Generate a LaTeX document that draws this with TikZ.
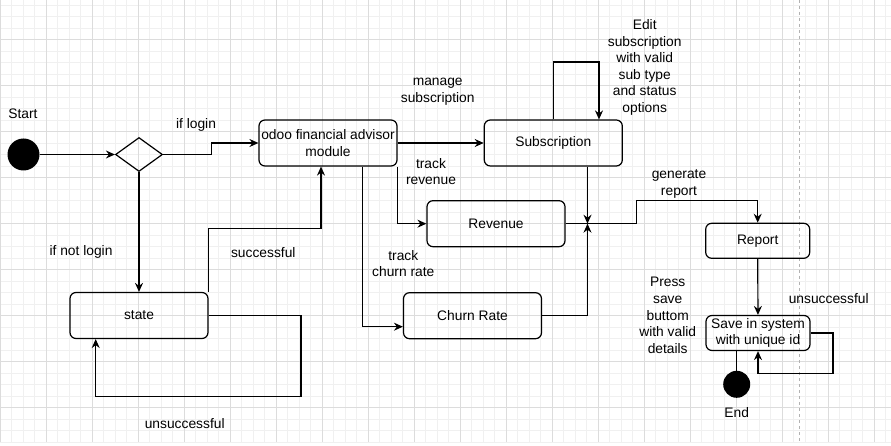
\documentclass[tikz,border=0pt]{standalone}
\usepackage{fontspec}
\setmainfont{Liberation Sans}
\usetikzlibrary{positioning,shapes.geometric,arrows.meta}
\definecolor{gridmaj}{RGB}{220,220,220}
\definecolor{gridmin}{RGB}{240,240,240}
\tikzset{stbox/.style={draw,rounded corners=6pt,line width=1.2pt,minimum width=138pt,minimum height=46pt,inner sep=0pt,align=center},
  smbox/.style={stbox,minimum width=104pt,minimum height=35pt},
  dot/.style={circle,fill=black,inner sep=0pt},
  dec/.style={draw,diamond,line width=1.2pt,minimum width=47pt,minimum height=34pt,inner sep=0pt},
  lbl/.style={align=center,inner sep=0pt},
  ln/.style={line width=1.2pt},
  arr/.style={ln,-{Stealth[length=9pt,width=8pt,inset=3pt]}}}

\begin{document}
\begin{tikzpicture}[x=1pt,y=-1pt,every node/.style={font=\fontsize{13.8}{16.6}\selectfont}]
  \useasboundingbox (0,0) rectangle (891,446);
  % grid
  \fill[white] (0,0) rectangle (891,446);
  \foreach \x in {0,11.5,...,891} \draw[gridmin,line width=0.8pt] (\x,0) -- (\x,442);
  \foreach \y in {5,16.5,...,442} \draw[gridmin,line width=0.8pt] (0,\y) -- (891,\y);
  \foreach \x in {0,46,...,891} \draw[gridmaj,line width=0.8pt] (\x,0) -- (\x,442);
  \foreach \y in {39.5,85.5,...,442} \draw[gridmaj,line width=0.8pt] (0,\y) -- (891,\y);
  \draw[gray!60,dashed,line width=0.8pt] (799.5,0) -- (799.5,442);

  % states
  \node (start) [dot,minimum size=32pt] at (23.5,154.5) {};
  \node (dia) [dec] at (139,154.5) {};
  \node (odoo) [stbox] at (328,143) {odoo financial advisor\\module};
  \node (sub) [stbox] at (553.3,143) {Subscription};
  \node (rev) [stbox] at (496,223.7) {Revenue};
  \node (churn) [stbox] at (472.5,315.7) {Churn Rate};
  \node (state) [stbox] at (139,315.5) {state};
  \node (report) [smbox] at (757.7,240.8) {Report};
  \node (save) [smbox] at (758,333) {Save in system\\with unique id};
  \node (endc) [dot,minimum size=27pt] at (736.7,384.3) {};
  \coordinate (jn) at (587.5,223.7);

  % arrows
  \draw[arr] (start) -- (dia);
  \draw[arr] (dia.east) -- ++(48.2,0) |- (odoo.west);
  \draw[arr] (dia) -- (state);
  \draw[arr] (state.north east) -- ++(0,-63.2) -| ([xshift=-7pt]odoo.south);
  \draw[arr] (state.east) -- ++(92.3,0) -- ++(0,80.8) -| ([xshift=-43.3pt]state.south);
  \draw[arr] (odoo) -- (sub);
  \draw[arr] (odoo.south east) |- (rev.west);
  \draw[arr] ([xshift=34.7pt]odoo.south) |- ([yshift=-11pt]churn.west);
  \draw[arr] (sub.north) -- ++(0,-57.3) -| ([xshift=45.7pt]sub.north);
  \draw[arr] (sub.south -| jn) -- (jn);
  \draw[arr] (churn.east) -| (jn);
  \draw[arr] (rev.east) -- ++(70.7,0) -- ++(0,-23) -| (report.north);
  \draw[arr] (report) -- (save);
  \draw[arr] (save.east) -- ++(22.3,0) -- ++(0,40.3) -| (save.south);
  \draw[ln] (save.south -| endc) -- (endc);

  % labels
  \node (lstart) [lbl] at (23,114) {Start};
  \node (lend) [lbl] at (736.7,412.7) {End};
  \node (llogin) [lbl] at (196,125) {if login};
  \node (lnot) [lbl] at (81,252.3) {if not login};
  \node (lsucc) [lbl] at (263.3,252.3) {successful};
  \node (lfail) [lbl] at (184.7,424) {unsuccessful};
  \node (lmanage) [lbl] at (437.7,91.7) {manage\\subscription};
  \node (ledit) [lbl] at (644.7,67.5) {Edit\\subscription\\with valid\\sub type\\and status\\options};
  \node (lrev) [lbl] at (431,171.7) {track\\revenue};
  \node (lchurn) [lbl] at (403.3,263.7) {track\\churn rate};
  \node (lgen) [lbl] at (679,183.7) {generate\\report};
  \node (lpress) [lbl] at (667.7,315.5) {Press\\save\\buttom\\with valid\\details};
  \node (lfail2) [lbl] at (828.7,298.3) {unsuccessful};
\end{tikzpicture}
\end{document}
